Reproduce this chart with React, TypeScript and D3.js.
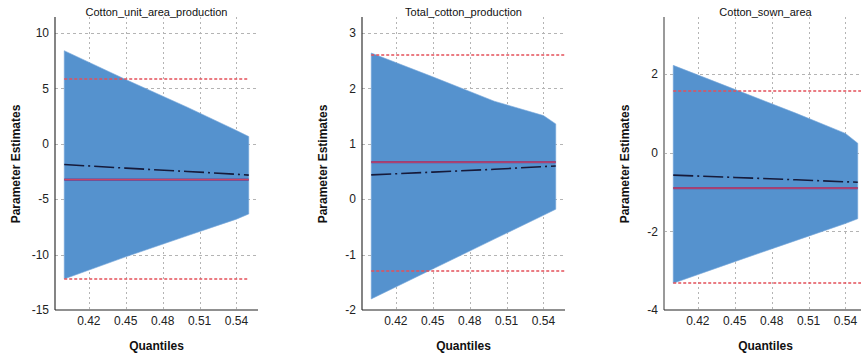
import React from "react";
import * as d3 from "d3";

// Quantile grid at which the coefficients were estimated
const quantiles = [0.4, 0.45, 0.5, 0.54, 0.55];
const xTicks = [0.42, 0.45, 0.48, 0.51, 0.54];

const titles = ["Cotton_unit_area_production", "Total_cotton_production", "Cotton_sown_area"];

// Confidence band of the quantile coefficient
const upperUnitArea = [8.4, 5.8, 3.3, 1.2, 0.65];
const lowerUnitArea = [-12.2, -10.2, -8.3, -6.8, -6.33];
const upperTotal = [2.64, 2.21, 1.77, 1.51, 1.36];
const lowerTotal = [-1.8, -1.26, -0.72, -0.29, -0.18];
const upperSown = [2.22, 1.61, 1.0, 0.49, 0.24];
const lowerSown = [-3.32, -2.77, -2.23, -1.8, -1.68];

// Quantile coefficient estimates
const estUnitArea = [-1.87, -2.2, -2.5, -2.75, -2.83];
const estTotal = [0.44, 0.49, 0.54, 0.59, 0.6];
const estSown = [-0.57, -0.63, -0.69, -0.74, -0.75];

// OLS estimate and its confidence limits
const olsEstimate = [-3.23, 0.67, -0.9];
const olsUpper = [5.8, 2.62, 1.57];
const olsLower = [-12.2, -1.28, -3.32];

const yTicksUnitArea = [-15, -10, -5, 0, 5, 10];
const yTicksTotal = [-2, -1, 0, 1, 2, 3];
const yTicksSown = [-4, -2, 0, 2];

const yDomains: [number, number][] = [
  [-15, 11.44],
  [-2, 3.29],
  [-4, 3.45],
];

const panels = [
  { upper: upperUnitArea, lower: lowerUnitArea, est: estUnitArea, ticks: yTicksUnitArea },
  { upper: upperTotal, lower: lowerTotal, est: estTotal, ticks: yTicksTotal },
  { upper: upperSown, lower: lowerSown, est: estSown, ticks: yTicksSown },
];

const W = 861;
const H = 357;
const panelLeft = [55, 362, 664];
const plotW = 203;
const top = 17;
const bottom = 310;
const font = "'Liberation Sans', Arial, sans-serif";

// crisp 1px grid lines
const snap = (v: number) => Math.round(v) + 0.5;
// limit lines straddle a pixel pair so they stay visibly red
const pair = (v: number) => 2 * Math.round((v - 1) / 2) + 1;

function Panel({ i }: { i: number }) {
  const p = panels[i];
  const left = panelLeft[i];
  const x = d3.scaleLinear().domain([0.3925, 0.5575]).range([left, left + plotW]);
  const y = d3.scaleLinear().domain(yDomains[i]).range([bottom, top]);
  const rows = quantiles.map((q, k) => ({ q, hi: p.upper[k], lo: p.lower[k], est: p.est[k] }));

  const band = d3
    .area<(typeof rows)[number]>()
    .x((d) => x(d.q))
    .y0((d) => y(d.lo))
    .y1((d) => y(d.hi))(rows);
  const estLine = d3
    .line<(typeof rows)[number]>()
    .x((d) => x(d.q))
    .y((d) => y(d.est))(rows);

  const q0 = quantiles[0];
  const q1 = quantiles[quantiles.length - 1];
  const refEnd = i === 0 ? x(q1) : x.range()[1];
  const cx = left + plotW / 2;
  const labelX = left - 39;

  return (
    <g>
      {/* grid */}
      {p.ticks
        .filter((t) => t !== yDomains[i][0])
        .map((t) => (
          <line key={"h" + t} x1={left} x2={left + plotW} y1={snap(y(t))} y2={snap(y(t))} stroke="#b4b4b4" strokeWidth={1} strokeDasharray="3,3" />
        ))}
      {xTicks.map((t) => (
        <line key={"v" + t} x1={snap(x(t))} x2={snap(x(t))} y1={top} y2={bottom} stroke="#b4b4b4" strokeWidth={1} strokeDasharray="2,3" />
      ))}

      {/* band */}
      <path d={band ?? ""} fill="#5592ce" stroke="#7aaadb" strokeWidth={0.6} />

      {/* OLS limits */}
      <line x1={x(q0)} x2={refEnd} y1={pair(y(olsUpper[i]))} y2={pair(y(olsUpper[i]))} stroke="#e4505a" strokeWidth={1.5} strokeDasharray="3,2" />
      <line x1={x(q0)} x2={refEnd} y1={pair(y(olsLower[i]))} y2={pair(y(olsLower[i]))} stroke="#e4505a" strokeWidth={1.5} strokeDasharray="3,2" />
      {/* OLS estimate */}
      <line x1={x(q0)} x2={x(q1)} y1={y(olsEstimate[i])} y2={y(olsEstimate[i])} stroke="#7a3c86" strokeWidth={2.2} />
      <line x1={x(q0)} x2={x(q1)} y1={y(olsEstimate[i])} y2={y(olsEstimate[i])} stroke="#d8485e" strokeWidth={0.9} />

      {/* quantile estimate */}
      <path d={estLine ?? ""} fill="none" stroke="#161a3a" strokeWidth={1.6} strokeDasharray="20,4,2,4" />

      {/* axes */}
      <line x1={left} x2={left} y1={top} y2={bottom} stroke={i === 2 ? "#9a9a9a" : "#333"} strokeWidth={i === 2 ? 2 : 1.2} />
      <line x1={left} x2={left + plotW} y1={bottom} y2={bottom} stroke="#222" strokeWidth={1.2} />

      {p.ticks.map((t) => (
        <text key={"yt" + t} x={left - 6} y={y(t)} dy="0.35em" textAnchor="end" fontSize={12} fontFamily={font} fill="#222">
          {t}
        </text>
      ))}
      {xTicks.map((t) => (
        <text key={"xt" + t} x={x(t)} y={325} textAnchor="middle" fontSize={12} fontFamily={font} fill="#222">
          {t.toFixed(2)}
        </text>
      ))}

      <text x={cx} y={16} textAnchor="middle" fontSize={11} fontFamily={font} fill="#111">
        {titles[i]}
      </text>
      <text x={cx} y={350} textAnchor="middle" fontSize={12} fontWeight="bold" fontFamily={font} fill="#111">
        Quantiles
      </text>
      <text
        transform={`translate(${labelX},${164}) rotate(-90)`}
        textAnchor="middle"
        dy="0.35em"
        fontSize={12}
        fontWeight="bold"
        fontFamily={font}
        fill="#111"
      >
        Parameter Estimates
      </text>
    </g>
  );
}

export default function App() {
  return (
    <svg width={W} height={H} style={{ position: "absolute", left: 0, top: 0, background: "#fff" }}>
      <rect width={W} height={H} fill="#fff" />
      {[0, 1, 2].map((i) => (
        <Panel key={i} i={i} />
      ))}
    </svg>
  );
}
